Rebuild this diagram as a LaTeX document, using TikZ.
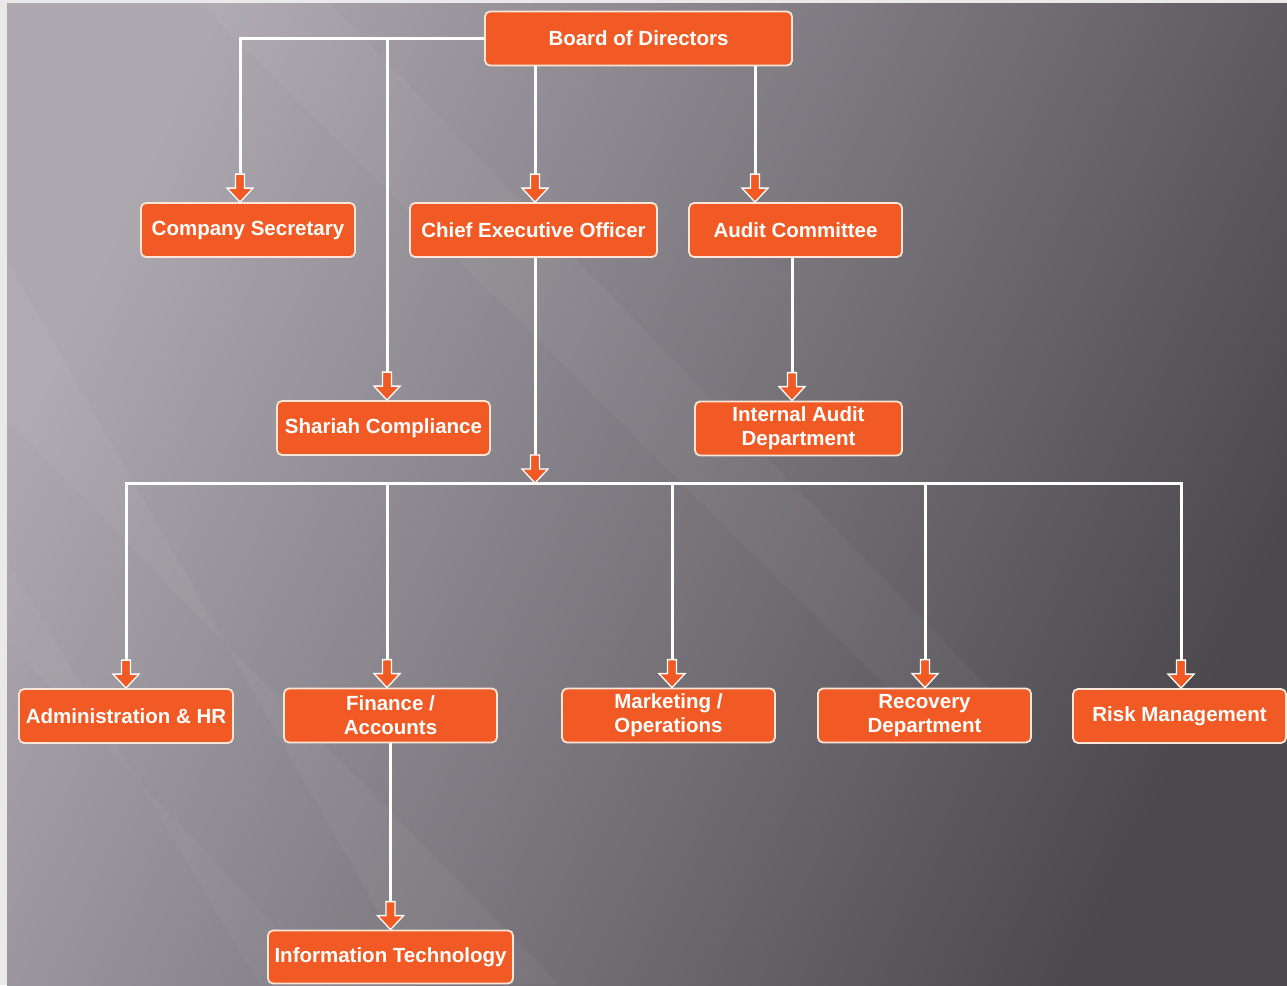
\documentclass[tikz,border=0pt]{standalone}
\usepackage{fontspec}
\setmainfont{Liberation Sans}
\usetikzlibrary{calc}

\definecolor{boxorange}{HTML}{F15A24}
\definecolor{boxedge}{HTML}{FBE6D8}
\definecolor{bglight}{HTML}{ADA8B0}
\definecolor{bgmid}{HTML}{635F66}
\definecolor{bgdark}{HTML}{4C494E}
\definecolor{pagegrey}{HTML}{E9E9EA}

\tikzset{
  orgbox/.style={draw=boxedge, line width=1.8pt, fill=boxorange, rounded corners=5pt,
    minimum height=54pt, inner sep=2pt, text=white, align=center,
    font=\fontsize{20.5}{24}\selectfont\bfseries},
  link/.style={draw=white, line width=3pt},
  pics/droparrow/.style={code={
    \draw[draw=white, fill=boxorange, line width=1.3pt, line join=miter]
      (-4.5,28) -- (4.5,28) -- (4.5,14) -- (13,14) -- (0,0) -- (-13,14) -- (-4.5,14) -- cycle;}}
}

\begin{document}
\begin{tikzpicture}[x=1pt,y=1pt,yscale=-1,xscale=1]
\useasboundingbox (0,0) rectangle (1287,985);

%Background
\fill[pagegrey] (0,0) rectangle (1287,985);
\shade[left color=bglight, middle color=bgmid, right color=bgdark, shading angle=65] (7,3) rectangle (1287,985);
\fill[white, opacity=0.04] (7,260) -- (7,420) -- (560,985) -- (420,985) -- cycle;
\fill[white, opacity=0.035] (200,3) -- (330,3) -- (1000,700) -- (900,700) -- cycle;
\fill[white, opacity=0.03] (7,560) -- (7,640) -- (330,985) -- (260,985) -- cycle;

% Text Node
\node[orgbox, minimum width=307pt] (board) at (638.5,38.5) {Board of Directors};
% Text Node
\node[orgbox, minimum width=214pt] (secretary) at (248,230) {Company Secretary};
% Text Node
\node[orgbox, minimum width=247pt] (ceo) at (533.5,230) {Chief Executive Officer};
% Text Node
\node[orgbox, minimum width=213pt] (audit) at (795.5,230) {Audit Committee};
% Text Node
\node[orgbox, minimum width=213pt] (shariah) at (383.5,428) {Shariah Compliance};
% Text Node
\node[orgbox, minimum width=207pt] (ia) at (798.5,428.5) {Internal Audit\\Department};
% Text Node
\node[orgbox, minimum width=214pt] (admin) at (126,716) {Administration \& HR};
% Text Node
\node[orgbox, minimum width=213pt] (finance) at (390.5,715.5) {Finance /\\Accounts};
% Text Node
\node[orgbox, minimum width=213pt] (marketing) at (668.5,715.5) {Marketing /\\Operations};
% Text Node
\node[orgbox, minimum width=213pt] (recovery) at (924.5,715.5) {Recovery\\Department};
% Text Node
\node[orgbox, minimum width=213pt] (risk) at (1179.5,716) {Risk Management};
% Text Node
\node[orgbox, minimum width=245pt, minimum height=53pt] (it) at (390.5,957) {Information Technology};

%Connectors from the board
\coordinate (sectop) at ($(secretary.north)+(-8,-28)$);
\coordinate (shariahtop) at ($(shariah.north)+(3.5,-28)$);
\coordinate (ceotop) at ($(ceo.north)+(1.5,-28)$);
\coordinate (audtop) at ($(audit.north)+(-40.5,-28)$);
\draw[link] (board.west) -| (sectop);
\draw[link] (shariahtop |- board.west) -- (shariahtop);
\draw[link] (ceotop |- board.south) -- (ceotop);
\draw[link] (audtop |- board.south) -- (audtop);
\pic at ($(secretary.north)+(-8,0)$) {droparrow};
\pic at ($(shariah.north)+(3.5,0)$) {droparrow};
\pic at ($(ceo.north)+(1.5,0)$) {droparrow};
\pic at ($(audit.north)+(-40.5,0)$) {droparrow};

%Audit committee to internal audit
\coordinate (iatop) at ($(ia.north)+(-6.5,-28)$);
\draw[link] (iatop |- audit.south) -- (iatop);
\pic at ($(ia.north)+(-6.5,0)$) {droparrow};

%CEO to the departments
\coordinate (bus) at (535,483);
\coordinate (bustop) at ($(bus)+(0,-28)$);
\draw[link] (bustop |- ceo.south) -- (bustop);
\coordinate (admintop) at ($(admin.north)+(0,-28)$);
\coordinate (risktop) at ($(risk.north)+(1.5,-28)$);
\draw[link] (admintop) |- (bus) -| (risktop);
\foreach \n/\dx in {finance/-3.5, marketing/3.5, recovery/0.5} {
  \coordinate (droptop) at ($(\n.north)+(\dx,-28)$);
  \draw[link] (droptop |- bus) -- (droptop);
}
\foreach \n/\dx in {admin/0, finance/-3.5, marketing/3.5, recovery/0.5, risk/1.5}
  \pic at ($(\n.north)+(\dx,0)$) {droparrow};
\pic at (bus) {droparrow};

%Finance to IT
\coordinate (ittop) at ($(it.north)+(0,-28)$);
\draw[link] (ittop |- finance.south) -- (ittop);
\pic at (it.north) {droparrow};

\end{tikzpicture}
\end{document}
